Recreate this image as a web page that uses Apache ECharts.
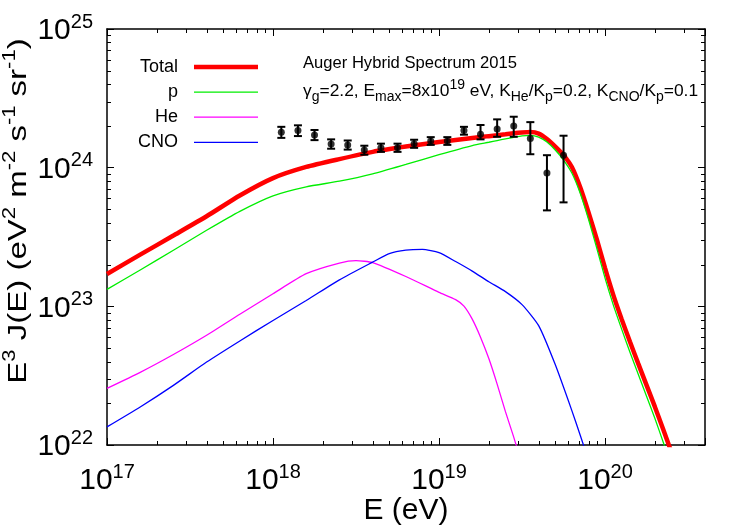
<!DOCTYPE html>
<html><head><meta charset="utf-8">
<script src="https://cdn.jsdelivr.net/npm/echarts@6/dist/echarts.min.js"></script>
<style>html,body{margin:0;padding:0;background:#fff}#c{width:750px;height:525px}</style>
</head><body><div id="c"></div>
<script>
// ---- data ----
const xMin = 1e17, xMax = 4e20, yMin = 1e22, yMax = 1e25;
const xMinor = [2e17,3e17,4e17,5e17,6e17,7e17,8e17,9e17,2e18,3e18,4e18,5e18,6e18,7e18,8e18,9e18,2e19,3e19,4e19,5e19,6e19,7e19,8e19,9e19,2e20,3e20];
const yMinor = [2e22,3e22,4e22,5e22,6e22,7e22,8e22,9e22,2e23,3e23,4e23,5e23,6e23,7e23,8e23,9e23,2e24,3e24,4e24,5e24,6e24,7e24,8e24,9e24];

const eTotal = [1e17,1.585e17,2.512e17,3.981e17,6.310e17,1e18,1.585e18,2.512e18,3.981e18,6.310e18,1e19,1.585e19,
  1.995e19,2.239e19,2.512e19,2.818e19,3.162e19,3.548e19,3.981e19,4.467e19,5.012e19,5.623e19,6.310e19,7.079e19,7.943e19,8.913e19,1e20,1.122e20,1.259e20,1.413e20,1.585e20,1.778e20,1.995e20,2.239e20,2.512e20];
const fTotal = [1.71e23,2.36e23,3.24e23,4.46e23,6.30e23,8.41e23,1.012e24,1.153e24,1.300e24,1.419e24,1.531e24,1.637e24,
  1.688e24,1.713e24,1.739e24,1.768e24,1.791e24,1.806e24,1.762e24,1.608e24,1.419e24,1.233e24,1.010e24,7.24e23,4.78e23,3.05e23,1.886e23,1.204e23,8.08e22,5.56e22,3.86e22,2.70e22,1.89e22,1.30e22,8.87e21];
const eP = [1e17,1.585e17,2.512e17,3.981e17,6.310e17,1e18,1.585e18,2.512e18,3.981e18,6.310e18,1e19,1.585e19,
  1.995e19,2.239e19,2.512e19,2.818e19,3.162e19,3.548e19,3.981e19,4.467e19,5.012e19,5.623e19,6.310e19,7.079e19,7.943e19,8.913e19,1e20,1.122e20,1.259e20,1.413e20,1.585e20,1.778e20,1.995e20,2.239e20,2.512e20];
const fP = [1.324e23,1.830e23,2.540e23,3.534e23,4.839e23,6.259e23,7.270e23,7.99e23,9.02e23,1.055e24,1.241e24,1.444e24,
  1.525e24,1.569e24,1.614e24,1.657e24,1.696e24,1.710e24,1.663e24,1.530e24,1.340e24,1.134e24,9.14e23,6.56e23,4.26e23,2.63e23,1.598e23,1.020e23,6.85e22,4.67e22,3.24e22,2.25e22,1.56e22,1.05e22,7.03e21];
const eHe = [1e17,1.585e17,2.512e17,3.981e17,6.310e17,1e18,1.585e18,2.512e18,3.162e18,3.981e18,6.310e18,1e19,1.259e19,1.413e19,1.585e19,1.778e19,1.995e19,2.239e19,2.512e19,2.818e19,3.162e19];
const fHe = [2.56e22,3.34e22,4.49e22,6.18e22,8.77e22,1.233e23,1.719e23,2.050e23,2.136e23,2.067e23,1.641e23,1.262e23,1.118e23,1.003e23,8.08e22,5.99e22,4.20e22,2.75e22,1.74e22,1.14e22,7.2e21];
const eCNO = [1e17,1.585e17,2.512e17,3.981e17,6.310e17,1e18,1.585e18,2.512e18,3.981e18,5.012e18,6.310e18,7.943e18,1e19,1.259e19,1.585e19,1.995e19,2.512e19,3.162e19,3.981e19,5.012e19,6.310e19,7.079e19,7.943e19];
const fCNO = [1.351e22,1.881e22,2.692e22,3.964e22,5.630e22,7.912e22,1.101e23,1.553e23,2.084e23,2.400e23,2.544e23,2.578e23,2.440e23,2.104e23,1.795e23,1.505e23,1.277e23,1.029e23,7.26e22,3.80e22,1.77e22,1.18e22,7.8e21];

const eData = [1.122e18,1.413e18,1.778e18,2.239e18,2.818e18,3.548e18,4.467e18,5.623e18,7.079e18,8.913e18,1.122e19,1.413e19,1.778e19,2.239e19,2.818e19,3.548e19,4.467e19,5.623e19];
const fData = [1.80e24,1.85e24,1.72e24,1.48e24,1.46e24,1.34e24,1.39e24,1.39e24,1.49e24,1.56e24,1.56e24,1.85e24,1.74e24,1.90e24,2.00e24,1.62e24,9.14e23,1.23e24];
const fLow  = [1.64e24,1.69e24,1.58e24,1.37e24,1.35e24,1.24e24,1.30e24,1.30e24,1.39e24,1.46e24,1.46e24,1.73e24,1.60e24,1.67e24,1.67e24,1.25e24,4.92e23,5.62e23];
const fHigh = [1.97e24,2.02e24,1.87e24,1.60e24,1.57e24,1.44e24,1.49e24,1.49e24,1.59e24,1.66e24,1.66e24,1.97e24,2.03e24,2.23e24,2.33e24,2.13e24,1.23e24,1.70e24];

const seriesNames = ['Total','p','He','CNO'];
const seriesColors = ['#ff0000','#00ee00','#ff00ff','#0000ff'];
const seriesWidths = [4.5, 1.3, 1.3, 1.3];
const titleLine1 = 'Auger Hybrid Spectrum 2015';

// ---- chart ----
const FONT = 'Liberation Sans, Arial, Helvetica, sans-serif';
const NARROW = 'Liberation Sans Narrow, Liberation Sans, Arial, sans-serif';
const zip = (a, b) => a.map((v, i) => [v, b[i]]);
const powLabel = v => {
  const l = Math.log10(v), e = Math.round(l);
  if (Math.abs(l - e) > 1e-6) return '';
  return '{b|10}{s|' + e + '}';
};
const tickRich = {
  b: {fontFamily: NARROW, fontSize: 30, color: '#000', lineHeight: 34, verticalAlign: 'bottom'},
  s: {fontFamily: NARROW, fontSize: 20, color: '#000', lineHeight: 34, verticalAlign: 'top'}
};
const MAJOR = 7, MINOR = 4;
const axisBase = {
  axisLine: {show: true, lineStyle: {color: '#000', width: 1.5}},
  axisTick: {show: true, inside: true, length: MAJOR, lineStyle: {color: '#000', width: 1}},
  splitLine: {show: false}
};

function minorTicks(kind) {
  return function (params, api) {
    const cs = params.coordSys;
    const v = api.value(kind === 'x' ? 0 : 1);
    const st = {stroke: '#000', lineWidth: 1};
    if (kind === 'x') {
      const px = Math.round(api.coord([v, yMin])[0]) + 0.5;
      const b = cs.y + cs.height, t = cs.y;
      return {type: 'group', children: [
        {type: 'line', shape: {x1: px, y1: b, x2: px, y2: b - MINOR}, style: st},
        {type: 'line', shape: {x1: px, y1: t, x2: px, y2: t + MINOR}, style: st}
      ]};
    }
    const py = Math.round(api.coord([xMin, v])[1]) + 0.5;
    const l = cs.x, r = cs.x + cs.width;
    return {type: 'group', children: [
      {type: 'line', shape: {x1: l, y1: py, x2: l + MINOR, y2: py}, style: st},
      {type: 'line', shape: {x1: r, y1: py, x2: r - MINOR, y2: py}, style: st}
    ]};
  };
}

function errorBars(params, api) {
  const x = api.value(0);
  const lo = api.coord([x, api.value(1)]);
  const hi = api.coord([x, api.value(2)]);
  const st = {stroke: '#000', lineWidth: 2};
  const c = 4;
  return {type: 'group', children: [
    {type: 'line', shape: {x1: lo[0], y1: lo[1], x2: hi[0], y2: hi[1]}, style: st},
    {type: 'line', shape: {x1: lo[0] - c, y1: lo[1], x2: lo[0] + c, y2: lo[1]}, style: st},
    {type: 'line', shape: {x1: hi[0] - c, y1: hi[1], x2: hi[0] + c, y2: hi[1]}, style: st}
  ]};
}

const curves = [[eTotal, fTotal], [eP, fP], [eHe, fHe], [eCNO, fCNO]];

const chart = echarts.init(document.getElementById('c'), null, {renderer: 'canvas'});
chart.setOption({
  animation: false,
  backgroundColor: '#fff',
  grid: {left: 107, right: 45, top: 29, bottom: 80, containLabel: false, outerBoundsMode: 'none'},
  xAxis: [
    Object.assign({type: 'log', logBase: 10, min: xMin, max: xMax, position: 'bottom',
      name: 'E (eV)', nameLocation: 'middle', nameGap: 51, nameMoveOverlap: false,
      nameTextStyle: {fontFamily: NARROW, fontSize: 30, color: '#000'},
      axisLabel: {formatter: powLabel, rich: tickRich, margin: 17}}, axisBase),
    Object.assign({type: 'log', logBase: 10, min: xMin, max: xMax, position: 'top',
      axisLabel: {show: false}}, axisBase)
  ],
  yAxis: [
    Object.assign({type: 'log', logBase: 10, min: yMin, max: yMax, position: 'left',
      axisLabel: {formatter: powLabel, rich: tickRich, margin: 14}}, axisBase),
    Object.assign({type: 'log', logBase: 10, min: yMin, max: yMax, position: 'right',
      axisLabel: {show: false}}, axisBase)
  ],
  legend: {
    data: seriesNames.map((n, i) => ({name: n, icon: 'path://M0,0H64V' + seriesWidths[i] + 'H0Z'})),
    orient: 'vertical', align: 'right', padding: 0,
    right: 492, top: 58, itemWidth: 64, itemHeight: 14, itemGap: 7.1,
    textStyle: {fontFamily: FONT, fontSize: 18, color: '#000', padding: [0, 11, 0, 0]}
  },
  graphic: [
    {type: 'text', left: 303, top: 55, silent: true,
     style: {text: titleLine1, font: '16.6px ' + FONT, fill: '#000'}},
    {type: 'text', left: 303, top: 78, silent: true,
     style: {
       text: '{n|γ}{b|g}{n|=2.2, E}{b|max}{n|=8x10}{t|19}{n| eV, K}{b|He}{n|/K}{b|p}{n|=0.2, K}{b|CNO}{n|/K}{b|p}{n|=0.1}',
       rich: {
         n: {fontFamily: FONT, fontSize: 17.4, fill: '#000', lineHeight: 26},
         b: {fontFamily: FONT, fontSize: 14, fill: '#000', lineHeight: 26, verticalAlign: 'bottom'},
         t: {fontFamily: FONT, fontSize: 14, fill: '#000', lineHeight: 26, verticalAlign: 'top'}
       }
     }},
    {type: 'text', x: 17, y: 211, rotation: Math.PI / 2, scaleY: 0.8, silent: true,
     style: {
       text: '{n|E}{s|3}{n| J(E) (eV}{s|2}{n| m}{s|-2}{n| s}{s|-1}{n| sr}{s|-1}{n|)}',
       align: 'center', verticalAlign: 'middle',
       rich: {
         n: {fontFamily: FONT, fontSize: 33, fill: '#000', lineHeight: 38, verticalAlign: 'bottom'},
         s: {fontFamily: FONT, fontSize: 22, fill: '#000', lineHeight: 38, verticalAlign: 'top'}
       }
     }}
  ],
  series: curves.map((c, i) => ({
    name: seriesNames[i], type: 'line', data: zip(c[0], c[1]),
    showSymbol: false, symbol: 'none', smooth: 0.2, clip: true,
    lineStyle: {color: seriesColors[i], width: seriesWidths[i]},
    itemStyle: {color: seriesColors[i]}, z: 3 + i
  })).concat([
    {type: 'custom', name: 'xminor', renderItem: minorTicks('x'), data: xMinor.map(v => [v, yMin]), silent: true, z: 10, clip: false},
    {type: 'custom', name: 'yminor', renderItem: minorTicks('y'), data: yMinor.map(v => [xMin, v]), silent: true, z: 10, clip: false},
    {type: 'custom', name: 'err', renderItem: errorBars, data: eData.map((x, i) => [x, fLow[i], fHigh[i]]),
     encode: {x: 0, y: [1, 2]}, silent: true, z: 20},
    {type: 'scatter', name: 'Auger', data: zip(eData, fData), symbol: 'circle', symbolSize: 7,
     itemStyle: {color: '#000'}, silent: true, z: 21}
  ])
});
</script></body></html>
